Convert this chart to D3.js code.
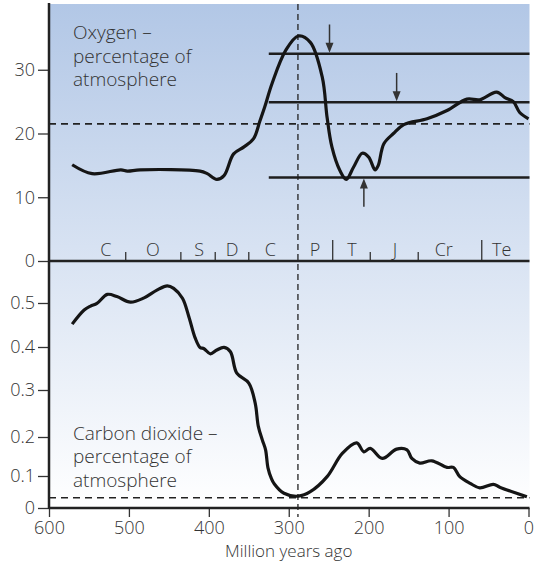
<!DOCTYPE html>
<html lang="en">
<head>
  <meta charset="UTF-8">
  <title>Oxygen and carbon dioxide</title>
  <script src="https://d3js.org/d3.v7.min.js"></script>
  <style>
    body {
      margin: 0;
      background: #fff;
      font-family: "Open Sans", sans-serif;
    }
    svg text {
      fill: #333;
      font-size: 18px;
      font-weight: 300;
    }
    svg text.label {
      font-size: 19px;
    }
    svg text.title {
      font-size: 17px;
    }
  </style>
</head>
<body>
  <div id="chart"></div>

  <script>
    // oxygen curve, [million years ago, % of atmosphere]
    const oxygen = [
      [571, 15.1], [546, 13.7], [510, 14.3], [502, 14.1], [486, 14.3], [411, 14.1],
      [402, 13.7], [390, 12.8], [381, 13.4], [369, 16.8], [356, 17.9], [344, 19.2],
      [336, 22.0], [330, 24.2], [321, 27.8], [304, 33.0], [288, 35.3],
      [273, 34.3], [258, 28.8], [252, 22.5], [246, 17.9], [236, 14.2], [228, 12.8],
      [219, 14.7], [208, 16.9], [200, 16.3], [192, 14.3], [188, 15.0], [181, 18.4],
      [169, 20.0], [156, 21.4], [127, 22.3], [102, 23.6], [77, 25.4], [61, 25.3],
      [40, 26.5], [29, 25.6], [19, 25.0], [11, 23.3], [0, 22.3]
    ];

    // carbon dioxide curve, [million years ago, % of atmosphere]
    const co2 = [
      [571, 0.452], [556, 0.484], [548, 0.493], [540, 0.499], [527, 0.520], [515, 0.515],
      [498, 0.502], [481, 0.512], [465, 0.530], [452, 0.540], [444, 0.534], [433, 0.511],
      [425, 0.469], [417, 0.420], [411, 0.399], [406, 0.396], [398, 0.384], [390, 0.393],
      [381, 0.399], [373, 0.389], [365, 0.339], [350, 0.316], [342, 0.272], [338, 0.222],
      [333, 0.192], [329, 0.167], [326, 0.121], [322, 0.094], [318, 0.075], [306, 0.046],
      [288, 0.037], [273, 0.051], [252, 0.098], [233, 0.158], [215, 0.185], [206, 0.162],
      [198, 0.171], [183, 0.145], [165, 0.169], [152, 0.167], [146, 0.145], [136, 0.133],
      [121, 0.139], [102, 0.122], [94, 0.122], [86, 0.098], [73, 0.077], [61, 0.063],
      [44, 0.074], [36, 0.065], [2, 0.035]
    ];

    const xTicks = [600, 500, 400, 300, 200, 100, 0];
    const o2Ticks = [0, 10, 20, 30];
    const co2Ticks = [0, 0.1, 0.2, 0.3, 0.4, 0.5];

    // oxygen reference levels and arrows
    const o2Levels = [32.5, 24.9, 13.1];
    const o2LevelStart = 325;
    const o2Today = 21.5;
    const arrowYears = [249, 165, 206];
    const arrowFrom = [37.1, 29.5, 8.5];
    const arrowTo = [32.5, 24.9, 13.1];

    const co2Today = 0.032;
    const markerYear = 288.5;

    // geological periods
    const periodNames = ["C", "O", "S", "D", "C", "P", "T", "J", "Cr", "Te"];
    const periodCentres = [529, 470, 412, 371, 323, 267, 221, 167, 106, 33.5];
    const shortBounds = [504, 435, 392, 350, 198, 138];
    const tallBounds = [245, 58.5];

    const width = 536, height = 565;
    const pLeft = 49, pRight = 528.5, pTop = 4, pBottom = 508, pMid = 261;

    const x = d3.scaleLinear().domain([600, 0]).range([pLeft, pRight]);
    const yO = d3.scaleLinear().domain([0, 40]).range([pMid, 6]);
    // the printed CO2 axis is not evenly spaced, so map it piece by piece
    const yC = d3.scaleLinear()
      .domain([0, 0.1, 0.2, 0.3, 0.4, 0.5, 0.6])
      .range([pBottom, 476, 437, 390, 347, 303, 260]);

    const svg = d3.select("#chart").append("svg")
      .attr("width", width)
      .attr("height", height);

    const grad = svg.append("defs").append("linearGradient")
      .attr("id", "bg")
      .attr("x1", 0).attr("y1", 0).attr("x2", 0).attr("y2", 1);
    grad.append("stop").attr("offset", "0%").attr("stop-color", "#b2c7e6");
    grad.append("stop").attr("offset", "100%").attr("stop-color", "#ffffff");

    svg.append("rect")
      .attr("x", pLeft).attr("y", pTop)
      .attr("width", pRight + 1 - pLeft).attr("height", pBottom - pTop)
      .attr("fill", "url(#bg)");

    // dashed present-day levels
    svg.append("line")
      .attr("x1", pLeft).attr("x2", pRight + 1)
      .attr("y1", yO(o2Today)).attr("y2", yO(o2Today))
      .attr("stroke", "#222").attr("stroke-width", 1.8)
      .attr("stroke-dasharray", "7,5");
    svg.append("line")
      .attr("x1", pLeft).attr("x2", pRight + 1)
      .attr("y1", yC(co2Today)).attr("y2", yC(co2Today))
      .attr("stroke", "#222").attr("stroke-width", 1.5)
      .attr("stroke-dasharray", "7,5");

    // vertical marker
    svg.append("line")
      .attr("x1", x(markerYear)).attr("x2", x(markerYear))
      .attr("y1", pTop).attr("y2", 517)
      .attr("stroke", "#222").attr("stroke-width", 1.3)
      .attr("stroke-dasharray", "6,4");

    // oxygen levels
    svg.append("g")
      .selectAll("line")
      .data(o2Levels)
      .join("line")
        .attr("x1", x(o2LevelStart)).attr("x2", pRight + 1)
        .attr("y1", d => yO(d)).attr("y2", d => yO(d))
        .attr("stroke", "#1e1e1e").attr("stroke-width", 2.5);

    // arrows
    const arrows = svg.append("g");
    arrowYears.forEach((yr, i) => {
      const ax = x(yr), y0 = yO(arrowFrom[i]), y1 = yO(arrowTo[i]);
      const dir = y1 > y0 ? 1 : -1;
      arrows.append("line")
        .attr("x1", ax).attr("x2", ax)
        .attr("y1", y0).attr("y2", y1 - dir * 8)
        .attr("stroke", "#333").attr("stroke-width", 1.5);
      arrows.append("path")
        .attr("d", `M${ax},${y1 - 1 * dir}L${ax - 4},${y1 - dir * 11}L${ax + 4},${y1 - dir * 11}Z`)
        .attr("fill", "#333");
    });

    // curves
    const lineO = d3.line()
      .x(d => x(d[0])).y(d => yO(d[1]))
      .curve(d3.curveCatmullRom.alpha(0.5));
    const lineC = d3.line()
      .x(d => x(d[0])).y(d => yC(d[1]))
      .curve(d3.curveCatmullRom.alpha(0.5));

    svg.append("path")
      .datum(oxygen)
      .attr("d", lineO)
      .attr("fill", "none").attr("stroke", "#151515")
      .attr("stroke-width", 3.2).attr("stroke-linejoin", "round");
    svg.append("path")
      .datum(co2)
      .attr("d", lineC)
      .attr("fill", "none").attr("stroke", "#151515")
      .attr("stroke-width", 3.2).attr("stroke-linejoin", "round");

    // period bar
    const periods = svg.append("g");
    periods.selectAll("line.short")
      .data(shortBounds)
      .join("line")
        .attr("class", "short")
        .attr("x1", d => x(d)).attr("x2", d => x(d))
        .attr("y1", 252).attr("y2", pMid)
        .attr("stroke", "#333").attr("stroke-width", 1.3);
    periods.selectAll("line.tall")
      .data(tallBounds)
      .join("line")
        .attr("class", "tall")
        .attr("x1", d => x(d)).attr("x2", d => x(d))
        .attr("y1", 240).attr("y2", pMid)
        .attr("stroke", "#333").attr("stroke-width", 1.3);
    periods.selectAll("text")
      .data(periodNames)
      .join("text")
        .attr("x", (d, i) => x(periodCentres[i]))
        .attr("y", 256)
        .attr("text-anchor", "middle")
        .text(d => d);

    // axes
    svg.append("line")
      .attr("x1", pLeft).attr("x2", pRight + 1)
      .attr("y1", pMid).attr("y2", pMid)
      .attr("stroke", "#222").attr("stroke-width", 2.5);

    const axO = svg.append("g")
      .attr("transform", `translate(${pLeft},0)`)
      .call(d3.axisLeft(yO).tickValues(o2Ticks).tickSize(11).tickPadding(3));
    const axC = svg.append("g")
      .attr("transform", `translate(${pLeft},0)`)
      .call(d3.axisLeft(yC).tickValues(co2Ticks).tickSize(11).tickPadding(3)
        .tickFormat(d => d === 0 ? "0" : d3.format(".1f")(d)));
    const axX = svg.append("g")
      .attr("transform", `translate(0,${pBottom})`)
      .call(d3.axisBottom(x).tickValues(xTicks).tickSize(9).tickPadding(4));

    [axO, axC, axX].forEach(g => {
      g.select(".domain").remove();
      g.selectAll(".tick line").attr("stroke", "#333").attr("stroke-width", 1.3);
      g.selectAll(".tick text")
        .attr("font-family", "'Open Sans', sans-serif")
        .attr("font-size", 18)
        .style("fill", "#333");
    });

    svg.append("line")
      .attr("x1", pLeft).attr("x2", pLeft)
      .attr("y1", 3).attr("y2", pBottom + 1)
      .attr("stroke", "#222").attr("stroke-width", 2.5);
    svg.append("line")
      .attr("x1", pLeft).attr("x2", pRight + 1)
      .attr("y1", pBottom).attr("y2", pBottom)
      .attr("stroke", "#222").attr("stroke-width", 2.5);

    // labels
    const o2Label = ["Oxygen –", "percentage of", "atmosphere"];
    const co2Label = ["Carbon dioxide –", "percentage of", "atmosphere"];
    svg.append("g").selectAll("text")
      .data(o2Label)
      .join("text")
        .attr("class", "label")
        .attr("x", 73).attr("y", (d, i) => 39 + i * 23.5)
        .text(d => d);
    svg.append("g").selectAll("text")
      .data(co2Label)
      .join("text")
        .attr("class", "label")
        .attr("x", 73).attr("y", (d, i) => 439.5 + i * 23.5)
        .text(d => d);

    svg.append("text")
      .attr("class", "title")
      .attr("x", (pLeft + pRight) / 2).attr("y", 557)
      .attr("text-anchor", "middle")
      .text("Million years ago");
  </script>
</body>
</html>
